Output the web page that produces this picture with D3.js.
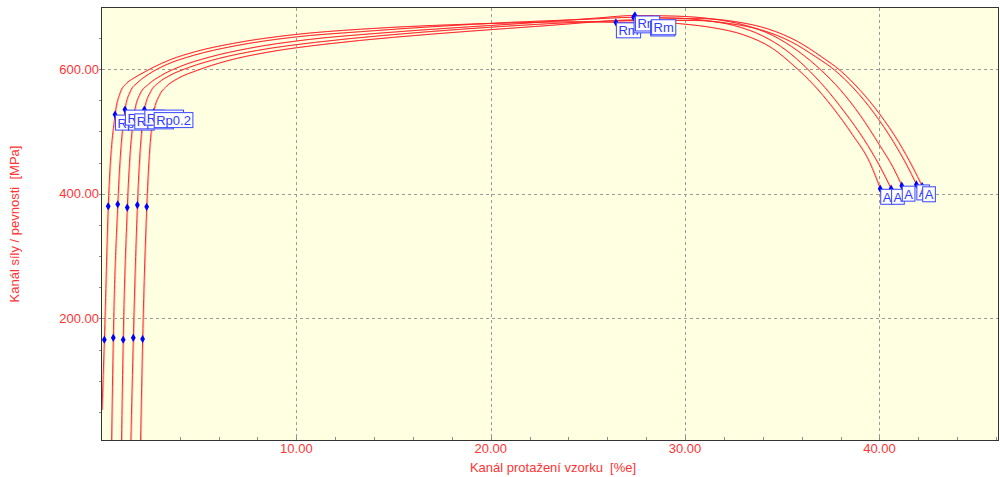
<!DOCTYPE html>
<html>
<head>
<meta charset="utf-8">
<script src="https://cdn.jsdelivr.net/npm/d3@7/dist/d3.min.js"></script>
<style>
  html, body { margin: 0; padding: 0; background: #ffffff; }
  svg { display: block; }
  text { font-family: "Liberation Sans", Arial, sans-serif; }
</style>
</head>
<body>
<svg id="chart" width="1000" height="477"></svg>
<script>
// Tensile test: five specimens, stress [MPa] vs. elongation [%]
const xTicks = [10, 20, 30, 40];
const yTicks = [200, 400, 600];
const xMinorTicks = d3.range(2, 46.1, 2);
const yMinorTicks = d3.range(50, 698, 50);

const xTitle = "Kanál protažení vzorku  [%e]";
const yTitle = "Kanál síly / pevnosti  [MPa]";

// Curve traces (elongation %, stress MPa), without the evaluated points
const curve1 = [[0.0,53],[0.93,562],[1.25,577],[1.6,585],[2.1,594],[2.64,603],[3.5,615],[4.8,628],[6.7,641],[9.8,655],[13.3,664],[17,670],[21,674],[24.5,676],[28.5,675],[30,672],[31.5,666],[33,655],[34.5,633],[35.6,605],[36.6,575],[37.6,538],[38.6,495],[39.5,450]];
const curve2 = [[0.49,0],[1.45,564],[1.85,579],[2.4,592],[3.3,607],[4.7,622],[6.8,637],[9.8,651],[13.3,660],[17,668],[21,675],[25,680],[29.5,682],[31,678],[32.5,670],[34,653],[35.2,630],[36.2,603],[37.2,570],[38.2,531],[39.2,487],[40.0,445]];
const curve3 = [[1.0,0],[1.95,560],[2.4,576],[3.0,589],[4.0,604],[5.5,619],[7.5,633],[10.5,647],[14,657],[18,666],[22,674],[25.5,682],[29.5,685],[31.5,680],[33,671],[34.5,654],[35.8,629],[37,598],[38,566],[39,526],[40,478],[40.7,442]];
const curve4 = [[1.48,0],[2.5,564],[2.9,578],[3.5,590],[4.5,603],[6,617],[8,630],[11,643],[14.5,654],[18.5,664],[22.5,672],[26,677],[30.5,678],[32.3,673],[34,662],[35.5,643],[36.7,620],[37.7,598],[38.7,568],[39.7,530],[40.7,484],[41.4,446]];
const curve5 = [[1.98,0],[2.95,558],[3.3,572],[3.9,585],[4.9,598],[6.4,613],[8.5,627],[11.5,640],[15,651],[19,661],[23,670],[26.5,678],[30.8,681],[32.6,676],[34.3,664],[35.8,644],[37,620],[38,597],[39,566],[40,528],[41,482],[41.7,443]];
const curves = [curve1, curve2, curve3, curve4, curve5];

// Evaluated points, one per specimen
const modulusLow  = [[0.12,166],[0.58,169],[1.09,166],[1.61,169],[2.09,167]];
const modulusHigh = [[0.32,380],[0.81,383],[1.30,378],[1.82,382],[2.30,379]];
const rpPoints = [[0.67,527],[1.18,535],[1.66,529],[2.18,535],[2.66,531]];
const rmPoints = [[26.44,675],[27.35,683],[27.42,686],[28.2,678],[28.25,680]];
const aPoints  = [[40.04,408],[40.6,408],[41.15,413],[41.9,415],[42.2,412]];

const rpLabel = "Rp0.2";
const rmLabel = "Rm";
const aLabel = "A";

const plot = { left: 102, right: 998, top: 8, bottom: 440 };

const svg = d3.select("#chart");
const x = d3.scaleLinear().domain([0, 46.1]).range([plot.left, plot.right]);
const y = d3.scaleLinear().domain([5, 698]).range([plot.bottom, plot.top]);

const red = "#ff3434";
const blue = "#2f3cff";

// plot background
svg.append("rect")
  .attr("x", plot.left).attr("y", plot.top)
  .attr("width", plot.right - plot.left).attr("height", plot.bottom - plot.top)
  .attr("fill", "#ffffe1");

svg.append("clipPath").attr("id", "clip")
  .append("rect")
  .attr("x", plot.left).attr("y", plot.top)
  .attr("width", plot.right - plot.left).attr("height", plot.bottom - plot.top);

// grid
const grid = svg.append("g").attr("stroke", "#9a9a9a").attr("stroke-dasharray", "3,3").attr("stroke-width", 1);
grid.selectAll("line.v").data(xTicks).join("line")
  .attr("x1", d => Math.round(x(d)) + 0.5).attr("x2", d => Math.round(x(d)) + 0.5)
  .attr("y1", plot.top).attr("y2", plot.bottom);
grid.selectAll("line.h").data(yTicks).join("line")
  .attr("y1", d => Math.round(y(d)) + 0.5).attr("y2", d => Math.round(y(d)) + 0.5)
  .attr("x1", plot.left).attr("x2", plot.right);

// minor ticks
const ticks = svg.append("g").attr("stroke", "#8a8a8a").attr("stroke-width", 1);
ticks.selectAll("line.xm").data(xMinorTicks).join("line")
  .attr("x1", d => Math.round(x(d)) + 0.5).attr("x2", d => Math.round(x(d)) + 0.5)
  .attr("y1", plot.bottom - 3).attr("y2", plot.bottom);
ticks.selectAll("line.ym").data(yMinorTicks).join("line")
  .attr("y1", d => Math.round(y(d)) + 0.5).attr("y2", d => Math.round(y(d)) + 0.5)
  .attr("x1", plot.left - 3).attr("x2", plot.left);

// tick labels
const fmt = d3.format(".2f");
svg.append("g").selectAll("text").data(xTicks).join("text")
  .attr("x", d => x(d)).attr("y", 453)
  .attr("text-anchor", "middle").attr("font-size", 13).attr("fill", red)
  .text(d => fmt(d));
svg.append("g").selectAll("text").data(yTicks).join("text")
  .attr("x", 99).attr("y", d => y(d) + 4.5)
  .attr("text-anchor", "end").attr("font-size", 13).attr("fill", red)
  .text(d => fmt(d));

// axis titles
svg.append("text")
  .attr("x", 553).attr("y", 472)
  .attr("text-anchor", "middle").attr("font-size", 13).attr("fill", red)
  .style("white-space", "pre")
  .text(xTitle);
svg.append("text")
  .attr("transform", "translate(19,224) rotate(-90)")
  .attr("text-anchor", "middle").attr("font-size", 13).attr("fill", red)
  .style("white-space", "pre")
  .text(yTitle);

// curves: trace merged with its evaluated points
const line = d3.line().x(d => x(d[0])).y(d => y(d[1])).curve(d3.curveMonotoneX);
const traces = curves.map((c, i) =>
  c.concat([modulusLow[i], modulusHigh[i], rpPoints[i], rmPoints[i], aPoints[i]])
   .sort((a, b) => a[0] - b[0]));

const cg = svg.append("g").attr("clip-path", "url(#clip)");
cg.selectAll("path.halo").data(traces).join("path")
  .attr("d", line).attr("fill", "none")
  .attr("transform", "translate(0.8,0)")
  .attr("stroke", "#ffb4b4").attr("stroke-width", 1);
cg.selectAll("path.main").data(traces).join("path")
  .attr("d", line).attr("fill", "none")
  .attr("stroke", "#ff1a1a").attr("stroke-width", 0.9);

// markers
const allMarkers = [].concat(modulusLow, modulusHigh, rpPoints, rmPoints, aPoints);
svg.append("g").selectAll("path").data(allMarkers).join("path")
  .attr("transform", d => `translate(${x(d[0])},${y(d[1])})`)
  .attr("d", d3.symbol().type(d3.symbolDiamond).size(20))
  .attr("fill", "#0000ff");

// labelled boxes, drawn in order so later ones overlap earlier ones
function drawLabels(points, label) {
  const g = svg.append("g");
  points.forEach(p => {
    const px = x(p[0]), py = y(p[1]);
    const lg = g.append("g");
    const t = lg.append("text")
      .attr("x", px + 2.5).attr("y", py + 13)
      .attr("font-size", 13).attr("fill", blue)
      .text(label);
    const w = t.node().getComputedTextLength();
    lg.insert("rect", "text")
      .attr("x", px + 0.5).attr("y", py + 0.5)
      .attr("width", w + 4).attr("height", 15)
      .attr("fill", "#fdfdff").attr("stroke", "#3a46ff").attr("stroke-width", 1);
  });
}
drawLabels(rpPoints, rpLabel);
drawLabels(rmPoints, rmLabel);
drawLabels(aPoints, aLabel);

// frame
svg.append("rect")
  .attr("x", plot.left - 0.5).attr("y", plot.top - 0.5)
  .attr("width", plot.right - plot.left + 1).attr("height", plot.bottom - plot.top + 1)
  .attr("fill", "none").attr("stroke", "#333").attr("stroke-width", 1);
</script>
</body>
</html>
